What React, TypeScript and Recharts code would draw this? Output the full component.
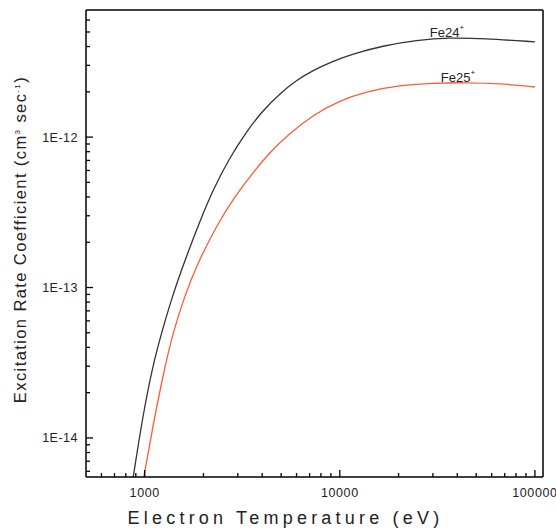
import React from 'react';
import { LineChart, Line, XAxis, YAxis, ReferenceDot } from 'recharts';

// Electron temperature (eV) and excitation rate coefficient (cm^3 s^-1)
const fe24T = [871, 980, 1103, 1241, 1397, 1604, 1914, 2240, 2729, 3323, 4044, 4924, 5996, 7297, 9240, 11250, 16680, 24740, 36650, 54310, 100000];
const fe24V = [5.4e-15, 1.432e-14, 3.085e-14, 5.41e-14, 9.04e-14, 1.507e-13, 2.742e-13, 4.48e-13, 7.32e-13, 1.091e-12, 1.507e-12, 1.947e-12, 2.388e-12, 2.785e-12, 3.197e-12, 3.532e-12, 4.055e-12, 4.413e-12, 4.585e-12, 4.529e-12, 4.3e-12];
const fe25T = [988, 1103, 1241, 1397, 1604, 1842, 2332, 2894, 3593, 4375, 5329, 7297, 10000, 13710, 20310, 30100, 44640, 66160, 100000];
const fe25V = [5.45e-15, 1.215e-14, 2.618e-14, 5.065e-14, 8.8e-14, 1.396e-13, 2.577e-13, 4.024e-13, 5.815e-13, 7.907e-13, 1.019e-12, 1.406e-12, 1.75e-12, 2.017e-12, 2.212e-12, 2.291e-12, 2.305e-12, 2.27e-12, 2.154e-12];

const xTicks = [600, 700, 800, 900, 1000, 2000, 3000, 4000, 5000, 6000, 7000, 8000, 9000, 10000, 20000, 30000, 40000, 50000, 60000, 70000, 80000, 90000, 100000];
const yTicks = [6e-15, 7e-15, 8e-15, 9e-15, 1e-14, 2e-14, 3e-14, 4e-14, 5e-14, 6e-14, 7e-14, 8e-14, 9e-14, 1e-13, 2e-13, 3e-13, 4e-13, 5e-13, 6e-13, 7e-13, 8e-13, 9e-13, 1e-12, 2e-12, 3e-12, 4e-12, 5e-12, 6e-12];

const xDomain = [500, 110000];
const yDomain = [5.5e-15, 7e-12];

const fe24 = fe24T.map((t, i) => ({ t, v: fe24V[i] }));
const fe25 = fe25T.map((t, i) => ({ t, v: fe25V[i] }));

const FONT = 'Liberation Sans, Arial, sans-serif';

const isMajor = (v: number) => {
  const l = Math.log10(v);
  return Math.abs(l - Math.round(l)) < 1e-6;
};

const XTick = (props: any) => {
  const { x, y, payload } = props;
  const v = payload.value;
  const major = isMajor(v);
  return (
    <g>
      <path d={`M${x},${y}V${y - (major ? 7 : 4)}`} stroke="#000" strokeWidth={1.3} fill="none" />
      {major && (
        <text x={x} y={y + 20} textAnchor="middle" fontFamily={FONT} fontSize={12.5} letterSpacing={0.6} fill="#222">
          {String(v)}
        </text>
      )}
    </g>
  );
};

const YTick = (props: any) => {
  const { x, y, payload } = props;
  const v = payload.value;
  const major = isMajor(v);
  return (
    <g>
      <path d={`M${x},${y}H${x + (major ? 7 : 4)}`} stroke="#000" strokeWidth={1.3} fill="none" />
      {major && (
        <text x={x - 8} y={y + 4.5} textAnchor="end" fontFamily={FONT} fontSize={12.5} letterSpacing={0.5} fill="#222">
          {'1E' + Math.round(Math.log10(v))}
        </text>
      )}
    </g>
  );
};

const XTitle = (props: any) => {
  const vb = props.viewBox;
  return (
    <text x={vb.x + vb.width / 2 - 29} y={vb.y + 47} textAnchor="middle" fontFamily={FONT} fontSize={18} letterSpacing={4.2} fill="#222">
      Electron Temperature (eV)
    </text>
  );
};

const YTitle = (props: any) => {
  const vb = props.viewBox;
  const cx = 26;
  const cy = vb.y + vb.height / 2 - 4;
  return (
    <text x={cx} y={cy} transform={`rotate(-90 ${cx} ${cy})`} textAnchor="middle" fontFamily={FONT} fontSize={16.5} letterSpacing={1.4} fill="#222">
      Excitation Rate Coefficient (cm
      <tspan fontSize={8} dy={-6}>3</tspan>
      <tspan dy={6}> sec</tspan>
      <tspan fontSize={8} dy={-6}>-1</tspan>
      <tspan dy={6}>)</tspan>
    </text>
  );
};

const SeriesLabel = (text: string) => (props: any) => {
  const vb = props.viewBox;
  return (
    <text x={vb.x} y={vb.y - 1} textAnchor="middle" fontFamily={FONT} fontSize={13} fill="#222">
      {text}
      <tspan fontSize={8} dy={-7}>+</tspan>
    </text>
  );
};

export default function App() {
  return (
    <div style={{ position: 'absolute', left: 0, top: 0, width: 556, height: 530, background: '#fff' }}>
      <LineChart width={556} height={530} margin={{ top: 9, right: 12, bottom: 0, left: 0 }}>
        <XAxis
          dataKey="t"
          type="number"
          scale="log"
          domain={xDomain}
          allowDataOverflow
          ticks={xTicks}
          interval={0}
          tickSize={0}
          tickMargin={0}
          tick={<XTick />}
          tickLine={false}
          height={53}
          axisLine={{ stroke: '#000', strokeWidth: 1.5 }}
          label={<XTitle />}
        />
        <XAxis xAxisId="top" orientation="top" type="number" domain={[0, 1]} height={1} tick={false} tickLine={false} axisLine={{ stroke: '#000', strokeWidth: 1.5 }} />
        <YAxis
          dataKey="v"
          type="number"
          scale="log"
          domain={yDomain}
          allowDataOverflow
          ticks={yTicks}
          interval={0}
          tickSize={0}
          tickMargin={0}
          tick={<YTick />}
          tickLine={false}
          width={86}
          axisLine={{ stroke: '#000', strokeWidth: 1.5 }}
          label={<YTitle />}
        />
        <YAxis yAxisId="right" orientation="right" type="number" domain={[0, 1]} width={1} tick={false} tickLine={false} axisLine={{ stroke: '#000', strokeWidth: 1.5 }} />
        <Line data={fe24} dataKey="v" type="basis" stroke="#333" strokeWidth={1.3} dot={false} isAnimationActive={false} />
        <Line data={fe25} dataKey="v" type="basis" stroke="#ff5a3a" strokeWidth={1.3} dot={false} isAnimationActive={false} />
        <ReferenceDot x={35400} y={4.55e-12} r={0} fill="none" stroke="none" label={SeriesLabel('Fe24')} ifOverflow="visible" />
        <ReferenceDot x={40300} y={2.3e-12} r={0} fill="none" stroke="none" label={SeriesLabel('Fe25')} ifOverflow="visible" />
      </LineChart>
    </div>
  );
}
